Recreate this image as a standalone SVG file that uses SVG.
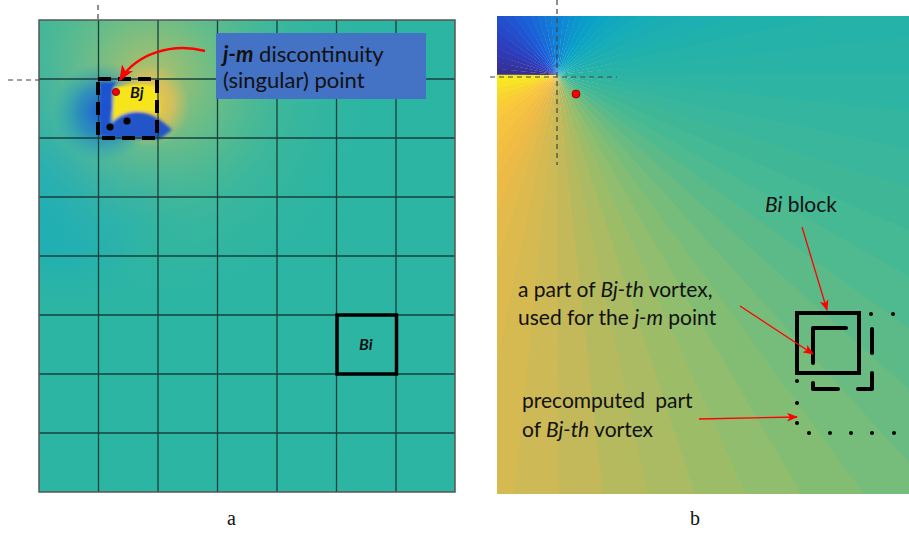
<svg xmlns="http://www.w3.org/2000/svg" xmlns:xlink="http://www.w3.org/1999/xlink" width="909" height="534" viewBox="0 0 909 534">
<style>
.grid{stroke:#17403c;stroke-width:1.3;fill:none}
.guide{stroke:#444;stroke-width:1.2;stroke-dasharray:5 4;fill:none}
.lbl{font-family:Lato,"Open Sans",sans-serif;fill:#111}
.cap{font-family:"Liberation Serif","DejaVu Serif",serif;font-size:20px;fill:#111}
.ra{stroke:#f00;stroke-width:1.3;fill:none;marker-end:url(#ah)}
.dot{fill:#000}
.thick{stroke:#000;stroke-width:4;fill:none;stroke-linecap:round;stroke-linejoin:round}
</style>
<defs>
<clipPath id="cl"><rect x="39" y="20" width="416" height="472"/></clipPath>
<clipPath id="cr"><rect x="497" y="16" width="412" height="478"/></clipPath>
<polygon id="w" points="0,0 700,-3 700,76"/>
<marker id="ah" viewBox="0 0 10 8" refX="9" refY="4" markerWidth="11" markerHeight="9" markerUnits="userSpaceOnUse" orient="auto"><path d="M0,0 L10,4 L0,8 L2.5,4 z" fill="#f00"/></marker>
<marker id="ah2" viewBox="0 0 10 8" refX="9" refY="4" markerWidth="16" markerHeight="13" markerUnits="userSpaceOnUse" orient="auto"><path d="M0,0 L10,4 L0,8 L2.5,4 z" fill="#f00"/></marker>
<radialGradient id="gCy" cx="65" cy="160" r="160" gradientUnits="userSpaceOnUse"><stop offset="0" stop-color="#0ea7c8"/><stop offset="0.55" stop-color="#14abc0" stop-opacity="0.65"/><stop offset="1" stop-color="#2db5a2" stop-opacity="0"/></radialGradient>
<radialGradient id="gTop" cx="150" cy="80" r="210" gradientUnits="userSpaceOnUse"><stop offset="0" stop-color="#c0c062" stop-opacity="0.95"/><stop offset="0.3" stop-color="#84c07c" stop-opacity="0.75"/><stop offset="0.65" stop-color="#52ba90" stop-opacity="0.4"/><stop offset="1" stop-color="#40b898" stop-opacity="0"/></radialGradient>
<radialGradient id="gBl" cx="103" cy="112" r="50" gradientUnits="userSpaceOnUse"><stop offset="0" stop-color="#1a5ad8"/><stop offset="0.5" stop-color="#1478d0" stop-opacity="0.65"/><stop offset="1" stop-color="#10a0c8" stop-opacity="0"/></radialGradient>
<radialGradient id="gOr" cx="148" cy="105" r="42" gradientUnits="userSpaceOnUse"><stop offset="0" stop-color="#f8d030"/><stop offset="0.6" stop-color="#f0c050" stop-opacity="0.65"/><stop offset="1" stop-color="#e0c060" stop-opacity="0"/></radialGradient>
<filter id="soft" x="-20%" y="-20%" width="140%" height="140%"><feGaussianBlur stdDeviation="1.6"/></filter>
</defs>

<g id="panel-a">
<g clip-path="url(#cl)">
<rect x="39" y="20" width="416" height="472" fill="#2db5a3"/>
<rect x="39" y="20" width="416" height="472" fill="url(#gCy)"/>
<rect x="39" y="20" width="416" height="472" fill="url(#gTop)"/>
<rect x="39" y="20" width="416" height="472" fill="url(#gBl)"/>
<rect x="39" y="20" width="416" height="472" fill="url(#gOr)"/>
<g filter="url(#soft)">
<path d="M114,88 Q132,82 156,86 L160,113 Q150,110 135,111 Q119,113 112,123 Z" fill="#f7e51e"/>
<path d="M100,82 L116,82 Q109,95 113,108 Q109,120 107,136 L100,136 Z" fill="#1f52cf"/>
<path d="M106,138 Q108,119 128,113 Q150,108 172,130 L160,139 Z" fill="#2054c8"/>
</g>
</g>
<g id="grid">
<path class="grid" d="M98.5,20V492M158,20V492M217.5,20V492M277,20V492M336.5,20V492M396,20V492M39,79H455M39,138H455M39,197H455M39,256H455M39,315H455M39,374H455M39,433H455"/>
<path d="M39,20H455V492H39Z" fill="none" stroke="#555" stroke-width="1.5"/>
</g>
<path class="guide" d="M98,5V20M8,80H39"/>
</g>

<g id="node-bj">
<rect x="98" y="79" width="59" height="59" fill="none" stroke="#000" stroke-width="4" stroke-dasharray="13 7"/>
<circle cx="116" cy="92" r="3.6" fill="#f00" stroke="#600" stroke-width="0.8"/>
<circle class="dot" cx="110" cy="127" r="3.6"/>
<circle class="dot" cx="127" cy="121" r="3.6"/>
<text x="130" y="98" class="lbl" font-size="16" font-weight="bold" font-style="italic">Bj</text>
</g>

<g id="node-bi-a">
<rect x="337" y="315" width="59.5" height="59" fill="none" stroke="#000" stroke-width="3.5"/>
<text x="359" y="350" class="lbl" font-size="16" font-weight="bold" font-style="italic">Bi</text>
</g>

<g id="node-label-jm">
<rect x="216" y="33" width="210" height="66" fill="#4472c4"/>
<text x="223" y="62" class="lbl" font-size="22"><tspan font-weight="bold" font-style="italic">j-m</tspan> discontinuity</text>
<text x="223" y="88" class="lbl" font-size="22">(singular) point</text>
</g>

<g id="panel-b">
<g clip-path="url(#cr)">
<g transform="translate(557,75)">
<use href="#w" transform="rotate(-180)" fill="#392e91"/>
<use href="#w" transform="rotate(-174)" fill="#36329c"/>
<use href="#w" transform="rotate(-168)" fill="#3336a6"/>
<use href="#w" transform="rotate(-162)" fill="#3039b0"/>
<use href="#w" transform="rotate(-156)" fill="#2d3dbb"/>
<use href="#w" transform="rotate(-150)" fill="#2942c2"/>
<use href="#w" transform="rotate(-144)" fill="#2649c7"/>
<use href="#w" transform="rotate(-138)" fill="#234fcc"/>
<use href="#w" transform="rotate(-132)" fill="#1f55d1"/>
<use href="#w" transform="rotate(-126)" fill="#1c5cd6"/>
<use href="#w" transform="rotate(-120)" fill="#1962d8"/>
<use href="#w" transform="rotate(-114)" fill="#186ad7"/>
<use href="#w" transform="rotate(-108)" fill="#1671d7"/>
<use href="#w" transform="rotate(-102)" fill="#1478d7"/>
<use href="#w" transform="rotate(-96)" fill="#137fd6"/>
<use href="#w" transform="rotate(-90)" fill="#1185d5"/>
<use href="#w" transform="rotate(-84)" fill="#108bd2"/>
<use href="#w" transform="rotate(-78)" fill="#0e91cf"/>
<use href="#w" transform="rotate(-72)" fill="#0c97cc"/>
<use href="#w" transform="rotate(-66)" fill="#0b9dc9"/>
<use href="#w" transform="rotate(-60)" fill="#0ba1c6"/>
<use href="#w" transform="rotate(-54)" fill="#0ea4c3"/>
<use href="#w" transform="rotate(-48)" fill="#11a7bf"/>
<use href="#w" transform="rotate(-42)" fill="#14aabb"/>
<use href="#w" transform="rotate(-36)" fill="#17adb8"/>
<use href="#w" transform="rotate(-30)" fill="#1aaeb4"/>
<use href="#w" transform="rotate(-24)" fill="#1dafb1"/>
<use href="#w" transform="rotate(-18)" fill="#21b1ad"/>
<use href="#w" transform="rotate(-12)" fill="#25b2a9"/>
<use href="#w" transform="rotate(-6)" fill="#28b3a6"/>
<use href="#w" transform="rotate(0)" fill="#2db4a2"/>
<use href="#w" transform="rotate(6)" fill="#33b59f"/>
<use href="#w" transform="rotate(12)" fill="#39b69b"/>
<use href="#w" transform="rotate(18)" fill="#3fb797"/>
<use href="#w" transform="rotate(24)" fill="#45b894"/>
<use href="#w" transform="rotate(30)" fill="#4fb98f"/>
<use href="#w" transform="rotate(36)" fill="#5cba88"/>
<use href="#w" transform="rotate(42)" fill="#69bb81"/>
<use href="#w" transform="rotate(48)" fill="#76bc7a"/>
<use href="#w" transform="rotate(54)" fill="#83bd73"/>
<use href="#w" transform="rotate(60)" fill="#90bd6e"/>
<use href="#w" transform="rotate(66)" fill="#9dbc68"/>
<use href="#w" transform="rotate(72)" fill="#aabb64"/>
<use href="#w" transform="rotate(78)" fill="#b6ba5e"/>
<use href="#w" transform="rotate(84)" fill="#c3b95a"/>
<use href="#w" transform="rotate(90)" fill="#cdb955"/>
<use href="#w" transform="rotate(96)" fill="#d5b951"/>
<use href="#w" transform="rotate(102)" fill="#ddba4e"/>
<use href="#w" transform="rotate(108)" fill="#e4ba4a"/>
<use href="#w" transform="rotate(114)" fill="#ecba46"/>
<use href="#w" transform="rotate(120)" fill="#f1bc43"/>
<use href="#w" transform="rotate(126)" fill="#f3bf41"/>
<use href="#w" transform="rotate(132)" fill="#f6c23f"/>
<use href="#w" transform="rotate(138)" fill="#f8c43d"/>
<use href="#w" transform="rotate(144)" fill="#fac83b"/>
<use href="#w" transform="rotate(150)" fill="#facd37"/>
<use href="#w" transform="rotate(156)" fill="#f9d430"/>
<use href="#w" transform="rotate(162)" fill="#f8dc2a"/>
<use href="#w" transform="rotate(168)" fill="#f7e424"/>
<use href="#w" transform="rotate(174)" fill="#f6eb1d"/>
</g>
</g>
<path class="guide" d="M557,0V165M490,77H617"/>
<circle cx="576" cy="94" r="4" fill="#f00" stroke="#700" stroke-width="0.8"/>
</g>

<g id="node-bi-b">
<rect x="797" y="313" width="62" height="60" fill="none" stroke="#000" stroke-width="4"/>
<path class="thick" d="M813,363V328H846M872,329V353M872,373V389H858M838,389H813V383"/>
<circle class="dot" cx="871" cy="314" r="2"/>
<circle class="dot" cx="893" cy="314" r="2"/>
<circle class="dot" cx="797" cy="381" r="2"/>
<circle class="dot" cx="797" cy="403" r="2"/>
<circle class="dot" cx="797" cy="423" r="2"/>
<circle class="dot" cx="809" cy="433" r="2"/>
<circle class="dot" cx="830" cy="433" r="2"/>
<circle class="dot" cx="851" cy="433" r="2"/>
<circle class="dot" cx="872" cy="433" r="2"/>
<circle class="dot" cx="894" cy="433" r="2"/>
</g>

<g id="labels-b" class="lbl" font-size="21">
<text x="765" y="212"><tspan font-style="italic">Bi</tspan> block</text>
<text x="518" y="297">a part of <tspan font-style="italic">Bj-th</tspan> vortex,</text>
<text x="518" y="325">used for the <tspan font-style="italic">j-m</tspan> point</text>
<text x="522" y="408" word-spacing="5">precomputed part</text>
<text x="522" y="437">of <tspan font-style="italic">Bj-th</tspan> vortex</text>
</g>

<g id="connectors">
<path d="M205,51 C172,42 136,54 120,80" stroke="#f00" stroke-width="2.4" fill="none" marker-end="url(#ah2)"/>
<path class="ra" d="M802,227L827,310"/>
<path class="ra" d="M740,306L813,354"/>
<path class="ra" d="M699,419L797,417"/>
</g>

<text x="227" y="525" class="cap">a</text>
<text x="690" y="525" class="cap">b</text>
</svg>
